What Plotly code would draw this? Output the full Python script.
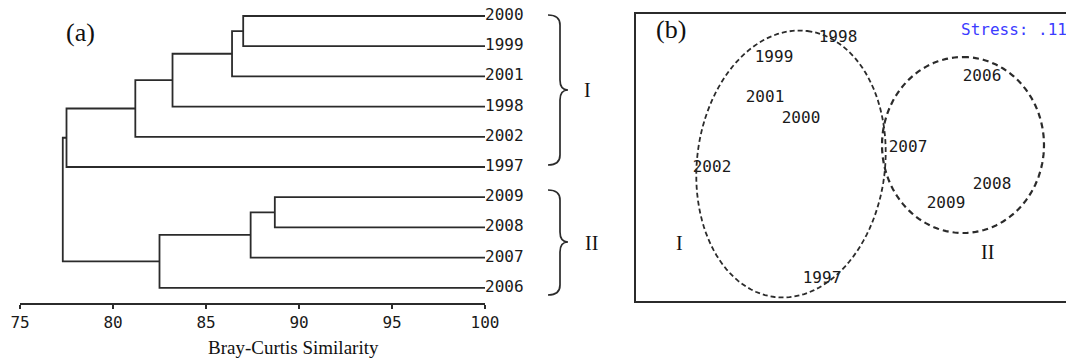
import numpy as np
import plotly.graph_objects as go

W, H = 1066, 359

# ---------------- data ----------------
leaves = ["2000", "1999", "2001", "1998", "2002", "1997", "2009", "2008", "2007", "2006"]
merge_left = ["2000", "m0", "m1", "m2", "m3", "2009", "m5", "m6", "m4"]
merge_right = ["1999", "2001", "1998", "2002", "1997", "2008", "2007", "2006", "m7"]
merge_sim = [87.0, 86.4, 83.2, 81.2, 77.5, 88.7, 87.4, 82.5, 77.3]
x_ticks = [75, 80, 85, 90, 95, 100]

nmds_years = ["1998", "1999", "2001", "2000", "2007", "2002", "2006", "2008", "2009", "1997"]
nmds_x = [-0.12, -0.76, -0.85, -0.49, 0.58, -1.38, 1.32, 1.42, 0.96, -0.28]
nmds_y = [1.22, 1.02, 0.62, 0.41, 0.12, -0.08, 0.83, -0.25, -0.44, -1.19]
stress = ".11"


def px(x):
    return x / W


def py(y):
    return 1 - y / H


# ---------------- dendrogram geometry ----------------
pos = {name: (100.0, float(i)) for i, name in enumerate(leaves)}
lx, ly = [], []
for i, (a, b, s) in enumerate(zip(merge_left, merge_right, merge_sim)):
    xa, ya = pos[a]
    xb, yb = pos[b]
    lx += [xa, s, s, xb, None]
    ly += [ya, ya, yb, yb, None]
    pos["m%d" % i] = (s, (ya + yb) / 2)

numfont = dict(family="DejaVu Sans Mono", size=16, color="#1a1a1a")

fig = go.Figure()
fig.add_trace(go.Scatter(x=lx, y=ly, mode="lines", line=dict(color="#2b2b2b", width=1.8),
                         hoverinfo="skip", showlegend=False, xaxis="x", yaxis="y"))

# leaf labels
fig.add_trace(go.Scatter(x=[100] * len(leaves), y=list(range(len(leaves))), mode="text",
                         text=leaves, textposition="middle right", textfont=numfont,
                         cliponaxis=False, showlegend=False, hoverinfo="skip",
                         xaxis="x", yaxis="y"))

# NMDS labels
fig.add_trace(go.Scatter(x=nmds_x, y=nmds_y, mode="text", text=nmds_years,
                         textposition="middle center", textfont=numfont,
                         cliponaxis=False, showlegend=False, hoverinfo="skip",
                         xaxis="x3", yaxis="y3"))

spacing = 30.2
top_leaf = 16.0
axis_py = 303.0
y_lo = (axis_py - top_leaf) / spacing
y_hi = (0 - top_leaf) / spacing

fig.update_layout(
    template="none",
    width=W, height=H, margin=dict(l=0, r=0, t=0, b=0, pad=0, autoexpand=False),
    paper_bgcolor="white", plot_bgcolor="white", showlegend=False,
    xaxis=dict(domain=[px(20), px(485)], range=[75, 100], tickvals=x_ticks,
               showgrid=False, zeroline=False, showline=True, linecolor="#2b2b2b",
               linewidth=1.5, ticks="outside", ticklen=4, tickwidth=1.5, tickcolor="#2b2b2b",
               tickfont=numfont, anchor="y", automargin=False),
    xaxis2=dict(overlaying="x", matches="x", range=[75, 100], tickvals=x_ticks,
                showgrid=False, zeroline=False, showline=False, ticks="inside", ticklen=4,
                tickwidth=1.5, tickcolor="#2b2b2b", showticklabels=False, anchor="y",
                automargin=False),
    yaxis=dict(domain=[py(axis_py), 1], range=[y_lo, y_hi], visible=False, automargin=False),
    xaxis3=dict(domain=[px(635), 1], range=[-2.15, 2.16], visible=False, anchor="y3",
                automargin=False),
    yaxis3=dict(domain=[py(302), py(13)], range=[-1.42, 1.47], visible=False, anchor="x3",
                automargin=False),
)

shapes = []


def path_str(cmds):
    out = []
    for c in cmds:
        if isinstance(c, str):
            out.append(c)
        else:
            out.append("%.5f,%.5f" % (px(c[0]), py(c[1])))
    return " ".join(out)


# braces
def brace(x0, x1, y0, y1, ymid):
    xm = x0 + (x1 - x0) * 0.6
    r = 10
    cmds = [
        "M", (x0, y0),
        "Q", (xm, y0), (xm, y0 + r),
        "L", (xm, ymid - r),
        "Q", (xm, ymid), (x1, ymid),
        "Q", (xm, ymid), (xm, ymid + r),
        "L", (xm, y1 - r),
        "Q", (xm, y1), (x0, y1),
    ]
    return dict(type="path", path=path_str(cmds), xref="paper", yref="paper",
                line=dict(color="#2b2b2b", width=1.7))


shapes.append(brace(548, 568, 15, 165, 90))
shapes.append(brace(548, 568, 190, 295, 242))


# ellipses
def ellipse(cx, cy, a, b, tilt_deg, width, dash):
    th = np.radians(tilt_deg)
    t = np.linspace(0, 2 * np.pi, 121)
    ux, uy = np.sin(th), -np.cos(th)
    vx, vy = np.cos(th), np.sin(th)
    xs = cx + a * np.cos(t) * ux + b * np.sin(t) * vx
    ys = cy + a * np.cos(t) * uy + b * np.sin(t) * vy
    d = "M " + " L ".join("%.5f,%.5f" % (px(x), py(y)) for x, y in zip(xs, ys)) + " Z"
    return dict(type="path", path=d, xref="paper", yref="paper",
                line=dict(color="#2b2b2b", width=width, dash=dash))


shapes.append(ellipse(791, 164, 134, 94, 7, 1.8, "5px,3px"))
shapes.append(ellipse(963, 145, 88, 81, 0, 2.2, "6px,4px"))

# NMDS frame (right side runs off the image)
shapes.append(dict(type="rect", xref="paper", yref="paper", x0=px(635), x1=1.02,
                   y0=py(302), y1=py(13), line=dict(color="#2b2b2b", width=2)))

fig.update_layout(shapes=shapes)

serif = "Liberation Serif"
ann = [
    dict(text="(a)", x=px(80), y=py(33), font=dict(family=serif, size=26, color="#111")),
    dict(text="(b)", x=px(671), y=py(30), font=dict(family=serif, size=26, color="#111")),
    dict(text="I", x=px(587), y=py(90), font=dict(family=serif, size=20, color="#111")),
    dict(text="II", x=px(591), y=py(243), font=dict(family=serif, size=20, color="#111")),
    dict(text="I", x=px(679), y=py(243), font=dict(family=serif, size=20, color="#111")),
    dict(text="II", x=px(987), y=py(252), font=dict(family=serif, size=20, color="#111")),
    dict(text="Bray-Curtis Similarity", x=px(293), y=py(347),
         font=dict(family=serif, size=19, color="#111")),
]
for a in ann:
    a.update(xref="paper", yref="paper", showarrow=False, xanchor="center", yanchor="middle")
ann.append(dict(text="Stress: " + stress, x=px(959), y=py(29), xref="paper", yref="paper",
                showarrow=False, xanchor="left", yanchor="middle",
                font=dict(family="DejaVu Sans Mono", size=16, color="#3b3bff")))
fig.update_layout(annotations=ann)

fig.write_html("out.html")
